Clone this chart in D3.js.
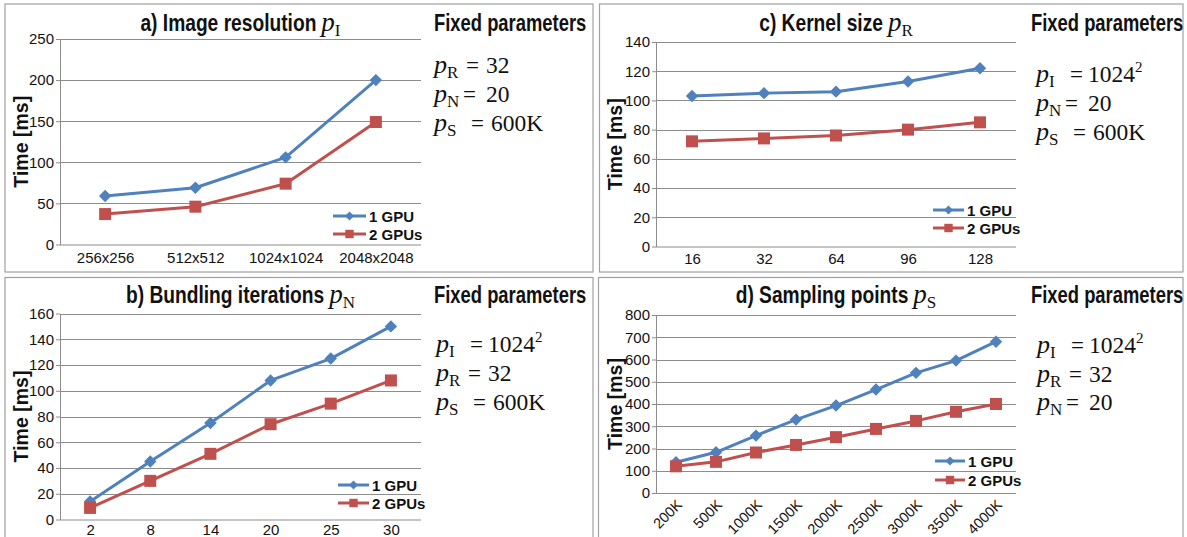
<!DOCTYPE html>
<html>
<head>
<meta charset="utf-8">
<script src="https://cdn.jsdelivr.net/npm/d3@7"></script>
<style>
  html, body { margin: 0; padding: 0; background: #fff; }
  svg { display: block; }
</style>
</head>
<body>
<svg id="chart" width="1187" height="537"></svg>
<script>
// ---------------- DATA ----------------
const seriesNames = ["1 GPU", "2 GPUs"];

const catsA = ["256x256", "512x512", "1024x1024", "2048x2048"];
const gpu1A = [59, 69, 106, 200];
const gpu2A = [37, 46, 74, 149];
const ticksA = [0, 50, 100, 150, 200, 250];

const catsB = ["2", "8", "14", "20", "25", "30"];
const gpu1B = [14, 45, 75, 108, 125, 150];
const gpu2B = [9, 30, 51, 74, 90, 108];
const ticksB = [0, 20, 40, 60, 80, 100, 120, 140, 160];

const catsC = ["16", "32", "64", "96", "128"];
const gpu1C = [103, 105, 106, 113, 122];
const gpu2C = [72, 74, 76, 80, 85];
const ticksC = [0, 20, 40, 60, 80, 100, 120, 140];

const catsD = ["200K", "500K", "1000K", "1500K", "2000K", "2500K", "3000K", "3500K", "4000K"];
const gpu1D = [138, 183, 258, 330, 393, 465, 540, 595, 680];
const gpu2D = [120, 140, 182, 216, 251, 288, 324, 365, 400];
const ticksD = [0, 100, 200, 300, 400, 500, 600, 700, 800];

const titlesText = ["a) Image resolution", "b) Bundling iterations", "c) Kernel size", "d) Sampling points"];
const titlesSub = ["I", "N", "R", "S"];
const yTitle = "Time [ms]";
const fixedHeading = "Fixed parameters";
// [subscript letter, value, superscript]
const fixedA = [["R", "32", ""], ["N", "20", ""], ["S", "600K", ""]];
const fixedB = [["I", "1024", "2"], ["R", "32", ""], ["S", "600K", ""]];
const fixedC = [["I", "1024", "2"], ["N", "20", ""], ["S", "600K", ""]];
const fixedD = [["I", "1024", "2"], ["R", "32", ""], ["N", "20", ""]];

// ---------------- STYLE / LAYOUT ----------------
const SANS = "'Liberation Sans',Arial,sans-serif";
const SERIF = "'Liberation Serif','Times New Roman',serif";
const SX = 0.8; // horizontal condensing for the narrow bold headings
const COLORS = ["#4F81BD", "#C0504D"];
const GRID = "#8c8c8c";
const FRAME = "#a0a0a0";

const panels = [
  { cats: catsA, s: [gpu1A, gpu2A], ticks: ticksA, title: 0, fixed: fixedA, rotate: false,
    frame: [5, 4, 593, 272], x0: 60, x1: 421, yb: 244.5, yt: 39, titleY: 30.5, xPad: 7.5,
    fx: 434, hx: 434, fy: [73, 102, 131], headY: 30.5, yTitleX: 20, legX: [333, 366, 369], legY: [216, 234] },
  { cats: catsB, s: [gpu1B, gpu2B], ticks: ticksB, title: 1, fixed: fixedB, rotate: false,
    frame: [5, 277.5, 593, 545], x0: 60, x1: 421, yb: 519.5, yt: 313.5, titleY: 302.5, xPad: 4.5,
    fx: 436, hx: 434, fy: [352, 381, 410], headY: 302.5, yTitleX: 20, legX: [338, 369, 372], legY: [485, 503] },
  { cats: catsC, s: [gpu1C, gpu2C], ticks: ticksC, title: 2, fixed: fixedC, rotate: false,
    frame: [599.5, 4, 1183, 272], x0: 656, x1: 1016, yb: 246.5, yt: 42, titleY: 30.5, xPad: 7,
    fx: 1036, hx: 1031, fy: [82, 111, 140], headY: 30.5, yTitleX: 614, legX: [933, 964, 967], legY: [210, 228] },
  { cats: catsD, s: [gpu1D, gpu2D], ticks: ticksD, title: 3, fixed: fixedD, rotate: true,
    frame: [598.5, 277.5, 1183, 545], x0: 656, x1: 1016, yb: 493, yt: 315, titleY: 302.5, xPad: 7,
    fx: 1037, hx: 1031, fy: [353, 382, 410], headY: 302.5, yTitleX: 614, legX: [935, 965, 968], legY: [461, 480] }
];
const eqOff = { I: 34, N: 29, R: 32, S: 37 };
const valOff = { I: 52, N: 52, R: 52, S: 57 };

const svg = d3.select("#chart");
svg.append("rect").attr("width", 1187).attr("height", 537).attr("fill", "#fff");

function marker(sel, i, big) {
  if (i === 0) {
    const r = big ? 6.2 : 4.5;
    sel.append("path").attr("d", `M0,${-r}L${r},0L0,${r}L${-r},0Z`).attr("fill", COLORS[0]);
  } else {
    const h = big ? 6 : 4.2;
    sel.append("rect").attr("x", -h).attr("y", -h).attr("width", 2 * h).attr("height", 2 * h).attr("fill", COLORS[1]);
  }
}

panels.forEach(p => {
  const g = svg.append("g");
  const [fx0, fy0, fx1, fy1] = p.frame;
  g.append("rect").attr("x", fx0).attr("y", fy0).attr("width", fx1 - fx0).attr("height", fy1 - fy0)
    .attr("fill", "none").attr("stroke", FRAME).attr("stroke-width", 1.2);

  const x = d3.scalePoint().domain(p.cats).range([p.x0, p.x1]).padding(0.5);
  const yMax = p.ticks[p.ticks.length - 1];
  const y = d3.scaleLinear().domain([0, yMax]).range([p.yb, p.yt]);

  // gridlines
  g.append("g").selectAll("line").data(p.ticks.slice(1)).join("line")
    .attr("x1", p.x0).attr("x2", p.x1)
    .attr("y1", d => Math.round(y(d)) + 0.5).attr("y2", d => Math.round(y(d)) + 0.5)
    .attr("stroke", GRID).attr("stroke-width", 1);

  // y axis
  const ya = g.append("g").attr("transform", `translate(${p.x0},0)`)
    .call(d3.axisLeft(y).tickValues(p.ticks).tickSize(4).tickSizeOuter(0).tickPadding(2));
  ya.selectAll("path,line").attr("stroke", GRID);
  ya.selectAll("text").attr("font-family", SANS).attr("font-size", 15).attr("fill", "#111");

  // x axis
  const xa = g.append("g").attr("transform", `translate(0,${p.yb})`)
    .call(d3.axisBottom(x).tickSize(0).tickSizeOuter(0).tickPadding(p.xPad));
  xa.select("path").attr("stroke", GRID).attr("d", `M${p.x0},0.5H${p.x1}`);
  xa.selectAll("text").attr("font-family", SANS).attr("font-size", 15).attr("fill", "#111");
  if (p.rotate) {
    xa.selectAll("text").attr("x", 0).attr("y", 0).attr("dy", "0.35em").attr("font-size", 14.5)
      .attr("text-anchor", "end").attr("transform", "translate(3,9) rotate(-45)");
  }

  // y axis title
  g.append("text").attr("transform", `translate(${p.yTitleX + 7.5},${(p.yb + p.yt) / 2}) rotate(-90)`)
    .attr("text-anchor", "middle").attr("font-family", SANS).attr("font-weight", "bold")
    .attr("font-size", 19.5).attr("fill", "#111").text(yTitle);

  // series
  p.s.forEach((vals, i) => {
    const pts = p.cats.map((c, k) => ({ c, v: vals[k] }));
    g.append("path").datum(pts)
      .attr("d", d3.line().x(d => x(d.c)).y(d => y(d.v)))
      .attr("fill", "none").attr("stroke", COLORS[i]).attr("stroke-width", 3)
      .attr("stroke-linejoin", "round");
    g.append("g").selectAll("g").data(pts).join("g")
      .attr("transform", d => `translate(${x(d.c)},${y(d.v)})`)
      .each(function () { marker(d3.select(this), i, true); });
  });

  // legend
  seriesNames.forEach((name, i) => {
    const ly = p.legY[i];
    g.append("line").attr("x1", p.legX[0]).attr("x2", p.legX[1]).attr("y1", ly).attr("y2", ly)
      .attr("stroke", COLORS[i]).attr("stroke-width", 3);
    const mg = g.append("g").attr("transform", `translate(${(p.legX[0] + p.legX[1]) / 2},${ly})`);
    marker(mg, i, false);
    g.append("text").attr("x", p.legX[2]).attr("y", ly + 5.5)
      .attr("font-family", SANS).attr("font-weight", "bold").attr("font-size", 15)
      .attr("fill", "#111").text(name);
  });

  // title: condensed bold text + math p_sub, centred on the plot area
  const tg = g.append("g");
  const t1 = tg.append("text").attr("transform", `scale(${SX},1)`)
    .attr("font-family", SANS).attr("font-weight", "bold").attr("font-size", 24).attr("fill", "#111")
    .text(titlesText[p.title]);
  const w1 = t1.node().getComputedTextLength() * SX;
  const t2 = tg.append("text").attr("x", w1 + 5).attr("font-family", SERIF).attr("fill", "#111");
  t2.append("tspan").attr("font-style", "italic").attr("font-size", 27).text("p");
  t2.append("tspan").attr("font-size", 17).attr("dy", 5).text(titlesSub[p.title]);
  const w2 = t2.node().getComputedTextLength();
  const total = w1 + 5 + w2;
  tg.attr("transform", `translate(${(p.x0 + p.x1) / 2 - total / 2},${p.titleY})`);

  // fixed parameters
  g.append("text").attr("transform", `translate(${p.hx},${p.headY}) scale(${SX},1)`)
    .attr("font-family", SANS).attr("font-weight", "bold").attr("font-size", 23)
    .attr("fill", "#111").text(fixedHeading);
  p.fixed.forEach((row, k) => {
    const [sub, val, sup] = row;
    const by = p.fy[k];
    const tx = g.append("text").attr("y", by).attr("font-family", SERIF).attr("fill", "#111");
    tx.append("tspan").attr("x", p.fx).attr("font-style", "italic").attr("font-size", 26).text("p");
    tx.append("tspan").attr("font-size", 17).attr("dy", 5).text(sub);
    tx.append("tspan").attr("x", p.fx + eqOff[sub]).attr("dy", -5).attr("font-size", 23).text("=");
    tx.append("tspan").attr("x", p.fx + valOff[sub]).attr("font-size", 23.5).text(val);
    if (sup) tx.append("tspan").attr("font-size", 15).attr("dy", -10).text(sup);
  });
});
</script>
</body>
</html>
